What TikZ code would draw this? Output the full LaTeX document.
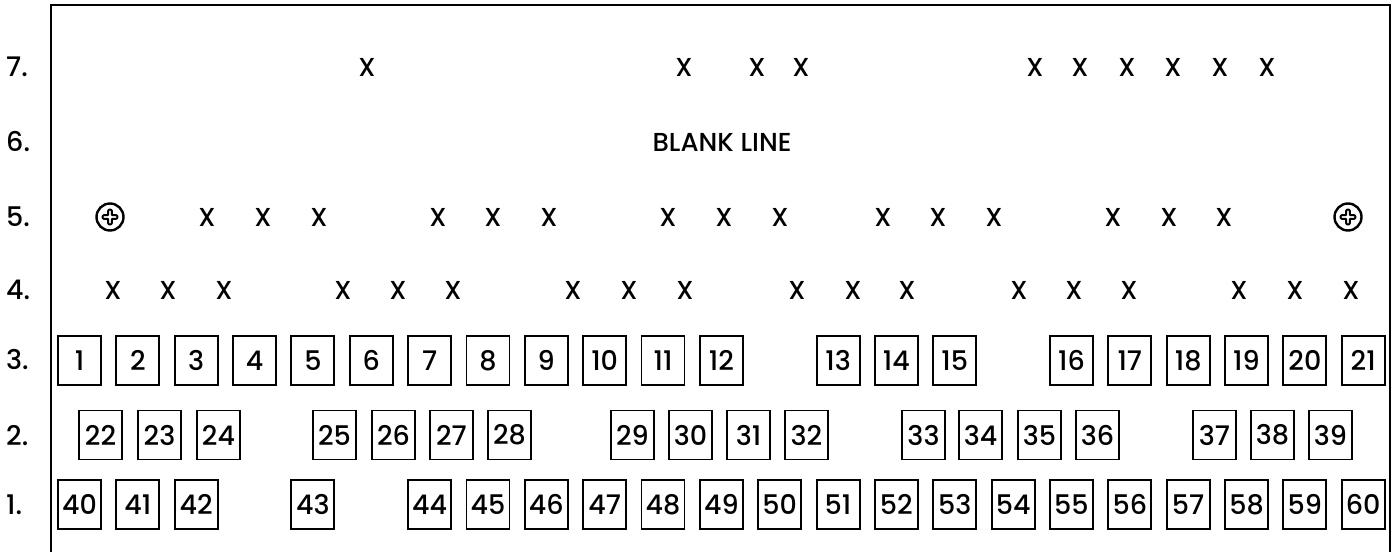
\documentclass[tikz,border=0pt]{standalone}
\usepackage{fontspec}
\setmainfont{Poppins Medium}
\usetikzlibrary{positioning}

\begin{document}
\begin{tikzpicture}[
  x=1pt, y=-1pt,
  seat/.style={draw, line width=1.9pt, minimum width=43pt, minimum height=49pt, inner sep=0pt, font=\fontsize{27}{30}\selectfont},
  xmk/.style={inner sep=0pt, font=\fontsize{26}{30}\selectfont},
  rowlbl/.style={anchor=west, inner sep=0pt, font=\fontsize{27}{30}\selectfont},
  screw/.style={draw, circle, line width=2.4pt, minimum size=27pt, inner sep=0pt},
  frame/.style={line width=2.6pt}
]
\useasboundingbox (0,0) rectangle (1395,552);
\draw[frame] (51,552) -- (51,5) -- (1390,5) -- (1390,552);

% row labels
\foreach \r/\y in {7/67,6/142,5/217,4/290,3/360,2/436,1/505}
  \node[rowlbl] (lbl\r) at (6,\y) {\r.};

% line 7
\foreach \x [count=\i] in {367,684,757,801,1035,1080,1127,1173,1220,1267}
  \node[xmk] (xg\i) at (\x,67) {X};

% line 6
\node[xmk] (blank) at (722,142) {BLANK LINE};

% line 5
\foreach \x [count=\i] in {207,263,319,438,493,549,668,724,780,883,938,994,1113,1169,1224}
  \node[xmk] (xe\i) at (\x,217) {X};
\node[screw] (sl) at (110,217) {};
\node[screw] (sr) at (1348,217) {};
\foreach \s in {sl,sr}
  \draw[line width=2pt, line join=round, shift={(\s)}]
    (-2,-5.5) .. controls (-2,-8.2) and (2,-8.2) .. (2,-5.5)
    .. controls (1.5,-1.5) .. (5.5,-2)
    .. controls (8.2,-2) and (8.2,2) .. (5.5,2)
    .. controls (1.5,1.5) .. (2,5.5)
    .. controls (2,8.2) and (-2,8.2) .. (-2,5.5)
    .. controls (-1.5,1.5) .. (-5.5,2)
    .. controls (-8.2,2) and (-8.2,-2) .. (-5.5,-2)
    .. controls (-1.5,-1.5) .. cycle;

% line 4
\foreach \x [count=\i] in {113,168,224,343,398,453,573,629,685,797,853,907,1019,1074,1129,1239,1295,1351}
  \node[xmk] (xd\i) at (\x,290) {X};

% line 3
\foreach \n in {1,...,12}
  \node[seat] (b\n) at ({79.5+58.35*(\n-1)},360.5) {\n};
\foreach \n in {13,14,15}
  \node[seat] (b\n) at ({79.5+58.35*\n},360.5) {\n};
\foreach \n in {16,...,21}
  \node[seat] (b\n) at ({79.5+58.35*(\n+1)},360.5) {\n};

% line 2
\foreach \n/\x in {22/100.5,23/159.5,24/218.5,25/334.5,26/393.5,27/451.5,28/509.5,
    29/632.5,30/690.5,31/748.5,32/806.5,33/923.5,34/980.5,35/1039.5,36/1097.5,
    37/1214.5,38/1272.5,39/1330.5}
  \node[seat] (b\n) at (\x,435) {\n};

% line 1
\foreach \n/\k in {40/0,41/1,42/2,43/4,44/6}
  \node[seat] (b\n) at ({79.5+58.35*\k},504.5) {\n};
\foreach \n in {45,...,60}
  \node[seat] (b\n) at ({79.5+58.35*(\n-38)},504.5) {\n};
\end{tikzpicture}
\end{document}
